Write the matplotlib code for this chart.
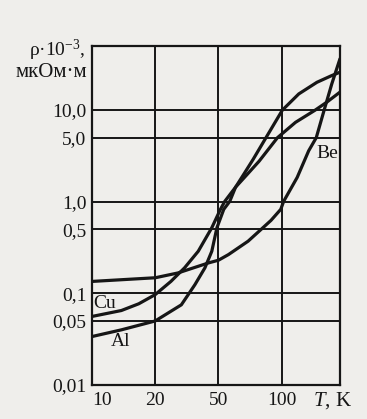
import numpy as np
import matplotlib
matplotlib.use("Agg")
import matplotlib.pyplot as plt

plt.rcParams['font.family'] = ['Liberation Serif', 'DejaVu Serif']
plt.rcParams['mathtext.fontset'] = 'custom'
plt.rcParams['mathtext.rm'] = 'Liberation Serif'
plt.rcParams['mathtext.it'] = 'Liberation Serif:italic'

# данные (T в K, rho в 10^-3 мкОм·м)
t_be = [10, 20, 27.8, 43.3, 50, 55.8, 69.2, 79.8, 88.9, 99.0, 102.2, 118.5, 134.4, 146.1, 159.3, 173.2, 189.5]
rho_be = [0.135, 0.148, 0.167, 0.215, 0.230, 0.265, 0.371, 0.499, 0.625, 0.826, 1.01, 1.84, 3.59, 5.0, 10.0, 19.3, 36.3]

t_cu = [10, 13.8, 16.7, 20, 25.1, 30.6, 37.3, 45.4, 51.1, 53.6, 60.3, 68.7, 78.1, 95.5, 116.4, 144.5, 164, 189.5]
rho_cu = [0.056, 0.065, 0.077, 0.097, 0.135, 0.190, 0.288, 0.52, 0.826, 1.01, 1.44, 2.0, 2.77, 5.0, 7.35, 10.0, 12.2, 15.7]

t_al = [10, 13.8, 20, 29.2, 35.5, 41.1, 45.4, 48.9, 53.0, 56.6, 60.3, 66.5, 73.2, 84.2, 100.8, 120.6, 147.2, 173.2, 189.5]
rho_al = [0.0338, 0.040, 0.050, 0.075, 0.124, 0.190, 0.288, 0.52, 0.826, 1.01, 1.44, 2.05, 2.91, 5.0, 10.0, 15.0, 20.1, 23.8, 25.9]

x_ticks = [10, 20, 50, 100]
x_tick_labels = ['10', '20', '50', '100']
y_ticks = [0.01, 0.05, 0.1, 0.5, 1, 5, 10]
y_tick_labels = ['0,01', '0,05', '0,1', '0,5', '1,0', '5,0', '10,0']

# ось T: 10-20-50-100-200 через равные промежутки
scale_t = np.log10([10, 20, 50, 100, 200])
scale_pos = [0, 1, 2, 3, 4]

def fwd(t):
    t = np.clip(np.asarray(t, dtype=float), 1e-3, None)
    return np.interp(np.log10(t), scale_t, scale_pos)

def inv(p):
    return 10 ** np.interp(p, scale_pos, scale_t)

bg = '#efeeeb'
ink = '#161616'

fig = plt.figure(figsize=(3.67, 4.19), dpi=100, facecolor=bg)
ax = fig.add_axes([0.2507, 0.0811, 0.6757, 0.8091], facecolor=bg)

ax.set_xscale('function', functions=(fwd, inv))
ax.set_yscale('log')
ax.set_xlim(10, 189.5)
ax.set_ylim(0.01, 50)

for t, r in [(t_be, rho_be), (t_cu, rho_cu), (t_al, rho_al)]:
    ax.plot(t, r, color=ink, lw=2.3, solid_capstyle='round', solid_joinstyle='round', zorder=3)

ax.set_xticks(x_ticks)
ax.set_xticklabels(x_tick_labels)
ax.set_yticks(y_ticks)
ax.set_yticklabels(y_tick_labels)
ax.minorticks_off()
ax.xaxis.set_minor_locator(matplotlib.ticker.NullLocator())
ax.tick_params(axis='both', length=0, labelsize=14, colors=ink)
ax.tick_params(axis='x', pad=5)
ax.tick_params(axis='y', pad=4)
ax.get_xticklabels()[0].set_horizontalalignment('left')
ax.grid(True, color=ink, lw=1.4)
for s in ax.spines.values():
    s.set_color(ink)
    s.set_linewidth(1.6)

# подписи кривых
ax.text(0.948, 0.684, 'Be', transform=ax.transAxes, fontsize=14, color=ink, ha='center', va='center')
ax.text(0.052, 0.239, 'Cu', transform=ax.transAxes, fontsize=14, color=ink, ha='center', va='center')
ax.text(0.117, 0.127, 'Al', transform=ax.transAxes, fontsize=14, color=ink, ha='center', va='center')

# подписи осей
fig.text(0.234, 0.866, r'ρ·10$^{-3}$,', fontsize=14, color=ink, ha='right', va='baseline')
fig.text(0.237, 0.816, 'мкОм·м', fontsize=15, color=ink, ha='right', va='baseline')
fig.text(0.853, 0.043, r'$\it{T}$, K', fontsize=15, color=ink, ha='left', va='center')

fig.savefig('out.png', dpi=100, facecolor=bg)
